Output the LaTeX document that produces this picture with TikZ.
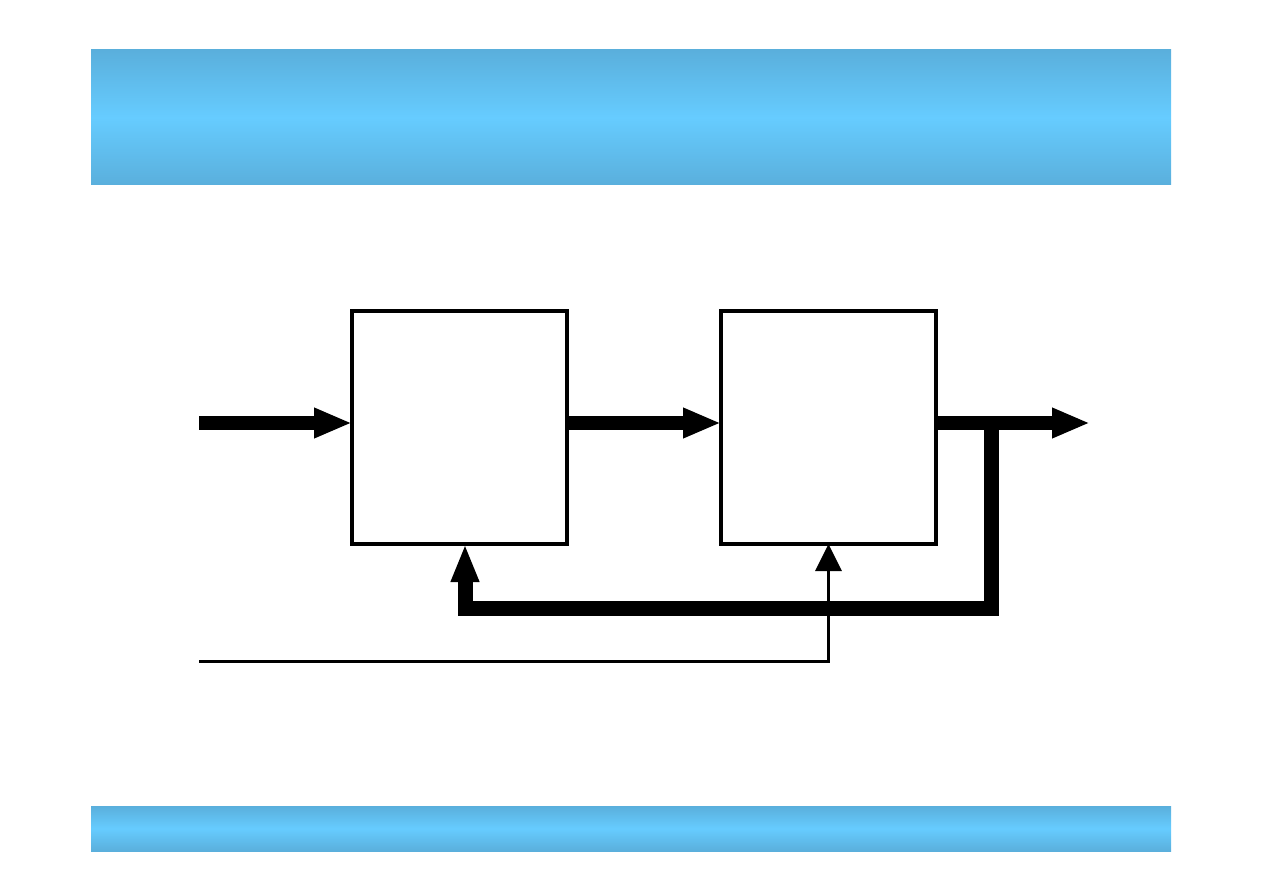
\documentclass[tikz,border=0pt]{standalone}
\usepackage{tikz}
\usetikzlibrary{arrows.meta, positioning}
\definecolor{bandedge}{HTML}{5AAFDC}
\definecolor{bandmid}{HTML}{66CCFF}

\begin{document}
\begin{tikzpicture}[x=1pt, y=-1pt,
    block/.style={draw, line width=4pt, minimum width=215pt, minimum height=233pt, inner sep=0pt, outer sep=0pt},
    bus/.style={line width=14pt, -{Triangle[length=38pt, width=28pt]}},
    fatbus/.style={line width=15pt, -{Triangle[length=38pt, width=26pt]}},
    sig/.style={line width=3pt, -{Triangle[length=27pt, width=26pt]}}]
    \useasboundingbox (0,0) rectangle (1262,893);
    % bands
    \shade[top color=bandedge, bottom color=bandedge, middle color=bandmid] (91,50) rectangle (1171,185);
    \shade[top color=bandedge, bottom color=bandedge, middle color=bandmid] (91,806) rectangle (1171,851);
    % blocks
    \node[block] (boxA) at (459.5,427.5) {};
    \node[block, right=154pt of boxA] (boxB) {};
    % signal path
    \coordinate (inA) at (199,423);
    \coordinate (outEnd) at (1090,423);
    \coordinate (tap) at (991,423);
    \coordinate (fbRight) at (991,608);
    \coordinate (fbLeft) at (465,608);
    \coordinate (ctrlIn) at (199,661);
    \draw[bus] (inA) -- (boxA.west |- inA);
    \draw[bus] (boxA.east |- inA) -- (boxB.west |- inA);
    \draw[bus] (boxB.east |- inA) -- (outEnd);
    % feedback
    \draw[fatbus] (tap) -- (fbRight) -- (fbLeft) -- (fbLeft |- boxA.south);
    \draw[sig] (ctrlIn) -- (ctrlIn -| boxB.south) -- (boxB.south);
\end{tikzpicture}
\end{document}
